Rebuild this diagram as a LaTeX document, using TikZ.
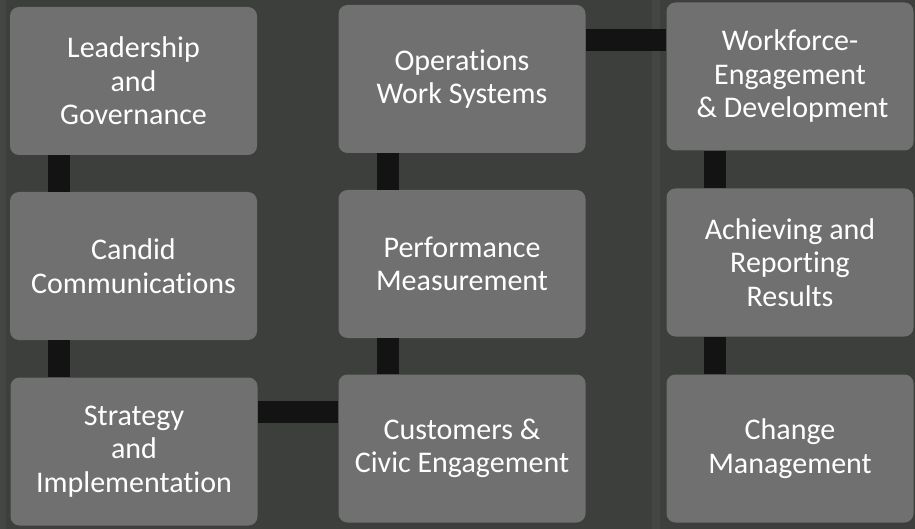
\documentclass[tikz,border=0pt]{standalone}
\usepackage{fontspec}
\setmainfont{Carlito}[Ligatures={NoCommon,NoRare,NoContextual},Contextuals={NoAlternate}]
\definecolor{bgdark}{HTML}{3D3F3D}
\definecolor{tile}{HTML}{6F706F}
\definecolor{barblack}{HTML}{121312}
% keeps "t" and "i" as separate glyphs
\newcommand\tisep{\kern0pt }
\begin{document}
\begin{tikzpicture}[x=1pt,y=-1pt,
  tilebox/.style={fill=tile, rounded corners=9pt, minimum width=247pt,
    minimum height=148pt, inner sep=0pt, align=center, text=white,
    font=\fontsize{30}{33.5}\selectfont},
  bar/.style={draw=barblack, line width=22pt}]
% background
\fill[bgdark] (0,0) rectangle (915,529);
\useasboundingbox (0,0) rectangle (915,529);
% subtle lighter bands in the backdrop
\fill[white,opacity=0.04] (0,0) rectangle (6,529);
\fill[white,opacity=0.04] (652,0) rectangle (660,529);
% tiles
\node[tilebox] (lead) at (133.5,81) {Leadership\\and\\Governance};
\node[tilebox] (cand) at (133.5,266) {Candid\\Communicat\tisep ions};
\node[tilebox] (strat) at (134,451.5) {Strategy\\and\\Implementat\tisep ion};
\node[tilebox] (oper) at (462,79) {Operat\tisep ions\\Work Systems};
\node[tilebox] (perf) at (462,264) {Performance\\Measurement};
\node[tilebox] (cust) at (462,448.5) {Customers \&\\Civic Engagement};
\node[tilebox] (work) at (790,76.5) {Workforce-\\Engagement\\\,\& Development};
\node[tilebox] (achv) at (790,262.5) {Achieving and\\Report\tisep ing\\Results};
\node[tilebox] (chng) at (790,448.5) {Change\\Management};
% connectors
\draw[bar] ([xshift=-74.5pt]lead.south) -- ([xshift=-74.5pt]lead.south |- cand.north);
\draw[bar] ([xshift=-74.5pt]cand.south) -- ([xshift=-74.5pt]cand.south |- strat.north);
\draw[bar] ([xshift=-74pt]oper.south) -- ([xshift=-74pt]oper.south |- perf.north);
\draw[bar] ([xshift=-74pt]perf.south) -- ([xshift=-74pt]perf.south |- cust.north);
\draw[bar] ([xshift=-75pt]work.south) -- ([xshift=-75pt]work.south |- achv.north);
\draw[bar] ([xshift=-75pt]achv.south) -- ([xshift=-75pt]achv.south |- chng.north);
\draw[bar] ([yshift=39.5pt]strat.east) -- ([yshift=39.5pt]strat.east -| cust.west);
\draw[bar] ([yshift=39pt]oper.east) -- ([yshift=39pt]oper.east -| work.west);
\end{tikzpicture}
\end{document}
